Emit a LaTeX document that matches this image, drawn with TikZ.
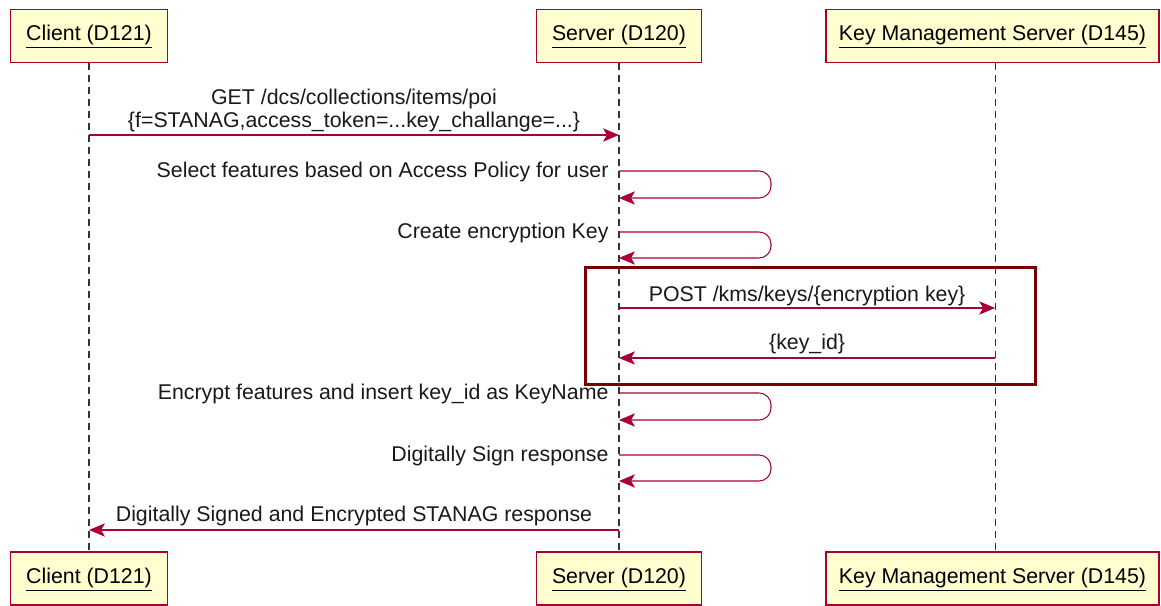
\documentclass[tikz,border=0pt]{standalone}
\usepackage{fontspec}
\setmainfont{Liberation Sans}
\usetikzlibrary{arrows.meta}

\definecolor{umlred}{HTML}{A80036}
\definecolor{umlyellow}{HTML}{FEFECE}
\definecolor{groupred}{HTML}{7A0000}

\begin{document}
\begin{tikzpicture}[
		x=0.75pt,
		y=-0.75pt,
		font=\fontsize{16}{17.25}\selectfont,
		actor/.style={draw=umlred, line width=1.1pt, fill=umlyellow, minimum height=40pt, inner sep=0pt, text height=11.5pt, text depth=4pt},
		lifeline/.style={black!80, dash pattern=on 5pt off 4pt, line width=1pt},
		msg/.style={umlred, line width=0.8pt, -{Stealth[length=12pt,width=10pt,inset=3pt]}},
		selfmsg/.style={msg, rounded corners=9pt},
		lbl/.style={inner sep=0pt, text=black!90, text depth=0pt}
	]

		\useasboundingbox (0,0) rectangle (1161,606);

		% Participants
		\node[actor, minimum width=117.75pt] (clientTop) at (89,36) {\underline{Client (D121)}};
		\node[actor, minimum width=123.75pt] (serverTop) at (619,36) {\underline{Server (D120)}};
		\node[actor, minimum width=249.75pt] (kmsTop) at (992.5,36) {\underline{Key Management Server (D145)}};

		\node[actor, minimum width=117.75pt] (clientBot) at (89,578.5) {\underline{Client (D121)}};
		\node[actor, minimum width=123.75pt] (serverBot) at (619,578.5) {\underline{Server (D120)}};
		\node[actor, minimum width=249.75pt] (kmsBot) at (992.5,578.5) {\underline{Key Management Server (D145)}};

		% Lifelines
		\draw[lifeline] (clientTop.south) -- (clientBot.north);
		\draw[lifeline] (serverTop.south) -- (serverBot.north);
		\draw[lifeline] ([xshift=2pt]kmsTop.south) -- ([xshift=2pt]kmsBot.north);

		% Points on the lifelines
		\coordinate (c1) at (clientTop |- 0,135);
		\coordinate (s1) at (serverTop |- 0,135);
		\coordinate (s2a) at (serverTop |- 0,171);
		\coordinate (s2b) at (serverTop |- 0,198);
		\coordinate (s3a) at (serverTop |- 0,232);
		\coordinate (s3b) at (serverTop |- 0,258);
		\coordinate (s4) at (serverTop |- 0,308);
		\coordinate (k4) at ([xshift=2pt]kmsTop |- 0,308);
		\coordinate (s5) at (serverTop |- 0,358);
		\coordinate (k5) at ([xshift=2pt]kmsTop |- 0,358);
		\coordinate (s6a) at (serverTop |- 0,393);
		\coordinate (s6b) at (serverTop |- 0,420);
		\coordinate (s7a) at (serverTop |- 0,455);
		\coordinate (s7b) at (serverTop |- 0,481);
		\coordinate (s8) at (serverTop |- 0,530);
		\coordinate (c8) at (clientTop |- 0,530);

		% Request
		\draw[msg] (c1) -- node[lbl, above=5.25pt, align=center] (getLbl) {GET /dcs/collections/items/poi\\{\{f=STANAG,access\_token=...key\_challange=...\}}} (s1);

		% Server steps
		\draw[selfmsg] (s2a) node[lbl, anchor=base east, xshift=-7.5pt, yshift=-5pt] (selectLbl) {Select features based on Access Policy for user} -- ++(152,0) |- (s2b);
		\draw[selfmsg] (s3a) node[lbl, anchor=base east, xshift=-7.5pt, yshift=-5pt] (createLbl) {Create encryption Key} -- ++(152,0) |- (s3b);

		% Key registration
		\draw[groupred, line width=2.25pt] (585,268) rectangle (1035,384);
		\draw[msg] (s4) -- node[lbl, above=4.5pt] (postLbl) {POST /kms/keys/\{encryption key\}} (k4);
		\draw[msg] (k5) -- node[lbl, above=6pt] (keyLbl) {\{key\_id\}} (s5);

		\draw[selfmsg] (s6a) node[lbl, anchor=base east, xshift=-7.5pt, yshift=-5pt] (encryptLbl) {Encrypt features and insert key\_id as KeyName} -- ++(152,0) |- (s6b);
		\draw[selfmsg] (s7a) node[lbl, anchor=base east, xshift=-7.5pt, yshift=-5pt] (signLbl) {Digitally Sign response} -- ++(152,0) |- (s7b);

		% Response
		\draw[msg] (s8) -- node[lbl, above=6pt] (respLbl) {Digitally Signed and Encrypted STANAG response} (c8);
	\end{tikzpicture}
\end{document}
